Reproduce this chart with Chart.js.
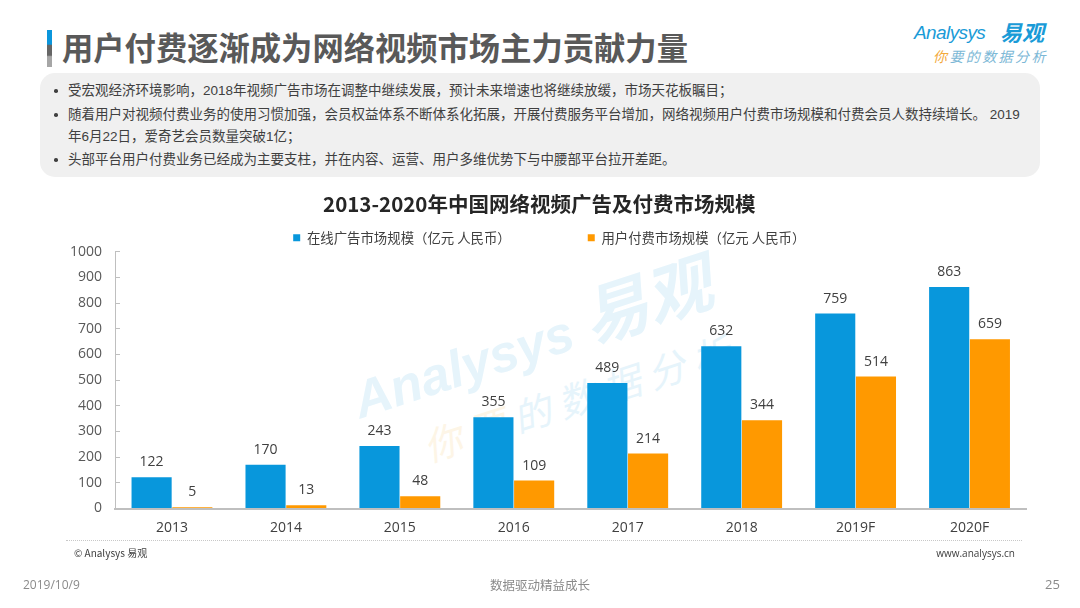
<!DOCTYPE html>
<html lang="zh"><head><meta charset="utf-8">
<script src="https://cdn.jsdelivr.net/npm/chart.js@4"></script>
<style>
html,body{margin:0;padding:0;background:#fff;width:1080px;height:608px;overflow:hidden}
body{position:relative;font-family:"Noto Sans CJK SC","Open Sans",sans-serif}
.a{position:absolute;white-space:nowrap;line-height:1}
#c{position:absolute;left:0;top:0;width:1080px;height:608px}
.l{font-family:"Liberation Sans","Noto Sans CJK SC",sans-serif;font-size:13.5px;color:#404040;left:68px}
.b{position:absolute;left:54px;width:3.5px;height:3.5px;border-radius:50%;background:#404040}
</style></head><body>
<div class="a" style="left:47px;top:30px;width:5px;height:37px;background:linear-gradient(#0b96dc 0,#0b96dc 38%,#666 42%,#666 68%,#a6a6a6 72%)"></div>
<div class="a" style="left:62px;top:31px;font-size:31.3px;font-weight:700;color:#595959">用户付费逐渐成为网络视频市场主力贡献力量</div>
<div class="a" style="left:914px;top:23px;font-family:'Liberation Sans';font-style:italic;font-size:19px;color:#1a9bd7;letter-spacing:-.6px">Analysys</div>
<div class="a" style="left:1000px;top:20px;font-size:22px;font-weight:700;font-style:italic;color:#1a9bd7">易观</div>
<div class="a" style="left:933px;top:49px;font-size:14px;font-style:italic;color:#7cb8d6;letter-spacing:2.4px"><span style="color:#f3a93c">你</span>要的数据分析</div>

<div class="a" style="left:40px;top:73px;width:1000px;height:104px;border-radius:15px;background:#f0f0f0"></div>
<div class="b" style="top:89px"></div><div class="a l" style="top:84px">受宏观经济环境影响，2018年视频广告市场在调整中继续发展，预计未来增速也将继续放缓，市场天花板瞩目；</div>
<div class="b" style="top:113px"></div><div class="a l" style="top:108px">随着用户对视频付费业务的使用习惯加强，会员权益体系不断体系化拓展，开展付费服务平台增加，网络视频用户付费市场规模和付费会员人数持续增长。 2019</div>
<div class="a l" style="top:130px">年6月22日，爱奇艺会员数量突破1亿；</div>
<div class="b" style="top:158px"></div><div class="a l" style="top:153px">头部平台用户付费业务已经成为主要支柱，并在内容、运营、用户多维优势下与中腰部平台拉开差距。</div>

<div class="a" style="left:352px;top:358px;transform:rotate(-18deg);transform-origin:left center;font-family:'Liberation Sans';font-style:italic;font-weight:700;font-size:52px;color:#e6f4fb">Analysys <span style="font-family:'Noto Sans CJK SC';font-size:66px">易观</span></div>
<div class="a" style="left:424px;top:428px;transform:rotate(-18deg);transform-origin:left center;font-style:italic;font-size:38px;letter-spacing:9px;color:#e6f4fb"><span style="color:#fdf5e6">你要</span>的数据分析</div>

<canvas id="c" width="1080" height="608"></canvas>

<div class="a" style="left:66px;top:540px;width:956px;border-top:1.5px dotted #c8c8c8"></div>
<div class="a" style="left:74px;top:548px;font-size:10px;color:#404040">© Analysys 易观</div>
<div class="a" style="right:65px;top:548px;font-family:'Open Sans';font-size:10px;color:#404040">www.analysys.cn</div>
<div class="a" style="left:23px;top:579px;font-family:'Open Sans';font-size:12px;color:#8a8a8a">2019/10/9</div>
<div class="a" style="left:490px;top:579px;font-size:12.5px;color:#8a8a8a">数据驱动精益成长</div>
<div class="a" style="left:1045px;top:578px;font-family:'Open Sans';font-size:13px;color:#8a8a8a">25</div>

<script>
const years = ["2013","2014","2015","2016","2017","2018","2019F","2020F"];
const adMarket = [122,170,243,355,489,632,759,863];
const paidMarket = [5,13,48,109,214,344,514,659];
const adLabel = "在线广告市场规模（亿元 人民币）";
const paidLabel = "用户付费市场规模（亿元 人民币）";
const chartTitle = "2013-2020年中国网络视频广告及付费市场规模";
const numFont = "'Open Sans','Noto Sans CJK SC',sans-serif";
const cjkFont = "'Noto Sans CJK SC','Open Sans',sans-serif";

const valueLabels = {id:'valueLabels',afterDatasetsDraw(chart){
  const ctx = chart.ctx; ctx.save();
  ctx.font = "14px "+numFont; ctx.fillStyle = "#404040";
  ctx.textAlign = "center"; ctx.textBaseline = "alphabetic";
  chart.data.datasets.forEach((ds,i)=>{
    chart.getDatasetMeta(i).data.forEach((bar,j)=>{
      ctx.fillText(String(ds.data[j]), bar.x, bar.y-11);
    });
  });
  ctx.restore();
}};
const legendPlace = {id:'legendPlace',afterLayout(chart){
  const lg = chart.legend;
  lg.top = 231 - lg.options.labels.padding;
  lg.left += 36; lg.right += 36;
  chart.titleBlock.left += 26; chart.titleBlock.right += 26;
}};

new Chart(document.getElementById('c'),{
  type:'bar',
  data:{labels:years,datasets:[
    {label:adLabel,data:adMarket,backgroundColor:"#0897dc"},
    {label:paidLabel,data:paidMarket,backgroundColor:"#ff9900"}
  ]},
  options:{
    responsive:false,animation:false,
    layout:{padding:{left:0,right:53.5,top:0,bottom:69.5}},
    datasets:{bar:{categoryPercentage:0.715,barPercentage:0.985}},
    plugins:{
      tooltip:{enabled:false},
      title:{display:true,text:chartTitle,color:"#262626",
        font:{family:cjkFont,size:20.5,weight:'bold',lineHeight:1.2},
        padding:{top:192,bottom:0}},
      legend:{display:true,position:'top',maxHeight:35.1,
        labels:{boxWidth:7,boxHeight:7,padding:77,color:"#404040",font:{family:cjkFont,size:13.4}}}
    },
    scales:{
      x:{grid:{display:false},border:{color:"#bfbfbf",width:2,z:1},
        afterFit(s){s.height=30},
        ticks:{color:"#404040",padding:3,font:{family:numFont,size:14},maxRotation:0}},
      y:{min:0,max:1000,
        afterFit(s){s.width=115},
        grid:{drawOnChartArea:false,tickLength:-5,tickColor:"#bfbfbf",tickWidth:1},
        border:{color:"#bfbfbf",width:1},
        ticks:{stepSize:100,color:"#595959",padding:18,font:{family:numFont,size:14},callback:v=>String(v)}}
    }
  },
  plugins:[valueLabels,legendPlace]
});
</script>
</body></html>
